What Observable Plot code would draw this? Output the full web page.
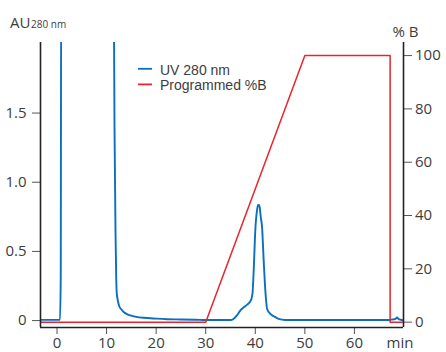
<!DOCTYPE html>
<html><head><meta charset="utf-8">
<script src="https://cdn.jsdelivr.net/npm/d3@7"></script>
<script src="https://cdn.jsdelivr.net/npm/@observablehq/plot@0.6"></script>
<style>
body{margin:0;background:#fff;}
#wrap{position:relative;width:446px;height:352px;font-family:"Open Sans",sans-serif;color:#444;}
#wrap svg.ov{position:absolute;left:0;top:0;pointer-events:none;overflow:visible;}
</style></head><body><div id="wrap"></div>
<script>
// UV 280 nm trace (minutes, AU)
const uvTime = [-3.33, 0.0, 0.6, 0.75, 0.85, 11.4, 11.6, 11.8, 11.95, 12.05, 12.3, 12.6, 13.0, 13.5, 14.2, 14.8, 16.0, 17.5, 20.0, 22.2, 25.0, 28.9, 30.0, 35.0, 35.6, 36.3, 37.0, 37.7, 38.35, 39.0, 39.2, 39.45, 39.7, 40.0, 40.36, 40.56, 40.75, 40.89, 41.1, 41.37, 41.7, 42.04, 42.38, 43.0, 43.8, 44.7, 46.0, 55.0, 67.0, 67.4, 67.9, 68.2, 68.6, 68.9, 69.3, 69.9];
const uvAU   = [0.005, 0.005, 0.005, 0.3, 2.6, 2.6, 1.4, 0.65, 0.3, 0.2, 0.14, 0.1, 0.08, 0.06, 0.045, 0.037, 0.027, 0.02, 0.014, 0.01, 0.008, 0.005, 0.004, 0.004, 0.012, 0.037, 0.074, 0.096, 0.115, 0.14, 0.155, 0.2, 0.38, 0.65, 0.8, 0.835, 0.835, 0.82, 0.75, 0.674, 0.43, 0.21, 0.086, 0.05, 0.03, 0.012, 0.004, 0.004, 0.004, 0.007, 0.009, 0.011, 0.022, 0.012, 0.006, 0.002];
// Programmed %B
const gradTime = [-3.33, 30, 50, 67.2, 67.2, 69.9];
const gradB    = [0, 0, 100, 100, 0, 0];

const xTicks  = [0, 10, 20, 30, 40, 50, 60];
const auTicks = [0, 0.5, 1.0, 1.5];
const bTicks  = [0, 20, 40, 60, 80, 100];
const xDomain  = [-3.33, 69.9];
const auDomain = [-0.05, 2.01];
const bDomain  = [-2.0, 104.9];
const seriesNames = ["UV 280 nm", "Programmed %B"];
const seriesColors = ["#0b6fc0", "#e8242c"];

const bToAU = d3.scaleLinear().domain(bDomain).range(auDomain);

const uv = uvTime.map((t, i) => ({t, v: uvAU[i]}));
const grad = gradTime.map((t, i) => ({t, v: bToAU(gradB[i])}));

const W = 446, H = 352, ML = 40, MR = 43, MT = 42, MB = 25;

const plot = Plot.plot({
  width: W, height: H,
  marginLeft: ML, marginRight: MR, marginTop: MT, marginBottom: MB,
  style: {fontFamily: '"Open Sans", sans-serif', fontSize: "15px", color: "#3d3d3d", background: "white", overflow: "visible"},
  x: {domain: xDomain},
  y: {domain: auDomain},
  marks: [
    Plot.axisX(xTicks, {tickSize: 7, tickPadding: 3.3, label: null, stroke: "#555", fill: "#3d3d3d"}),
    Plot.axisY(auTicks, {anchor: "left", tickSize: 8, tickPadding: 6, label: null, stroke: "#555", fill: "#3d3d3d",
      tickFormat: d => d === 0 ? "0" : d.toFixed(1)}),
    Plot.axisY(bTicks.map(b => bToAU(b)), {anchor: "right", tickSize: 8, tickPadding: 3.5, label: null, stroke: "#555", fill: "#3d3d3d",
      tickFormat: d => String(Math.round(bToAU.invert(d)))}),
    Plot.line(uv, {x: "t", y: "v", stroke: seriesColors[0], strokeWidth: 1.9, curve: "monotone-x", clip: true}),
    Plot.line(grad, {x: "t", y: "v", stroke: seriesColors[1], strokeWidth: 1.5, clip: true}),
    Plot.ruleX([xDomain[0], xDomain[1]], {stroke: "#222", strokeWidth: 1.6}),
    Plot.ruleY([auDomain[0]], {stroke: "#222", strokeWidth: 1.6})
  ]
});
const wrap = document.getElementById("wrap");
wrap.appendChild(plot);

// overlay texts and legend
const ns = "http://www.w3.org/2000/svg";
const ov = document.createElementNS(ns, "svg");
ov.setAttribute("class", "ov");
ov.setAttribute("width", W); ov.setAttribute("height", H);
ov.setAttribute("font-family", '"Open Sans", sans-serif');
function txt(x, y, s, size, anchor, family) {
  const t = document.createElementNS(ns, "text");
  t.setAttribute("x", x); t.setAttribute("y", y);
  t.setAttribute("font-size", size); t.setAttribute("fill", "#3d3d3d");
  if (anchor) t.setAttribute("text-anchor", anchor);
  if (family) t.setAttribute("font-family", family);
  t.textContent = s; ov.appendChild(t); return t;
}
function ln(x1, y1, x2, y2, c) {
  const l = document.createElementNS(ns, "line");
  l.setAttribute("x1", x1); l.setAttribute("y1", y1);
  l.setAttribute("x2", x2); l.setAttribute("y2", y2);
  l.setAttribute("stroke", c); l.setAttribute("stroke-width", 1.8);
  ov.appendChild(l);
}
txt(10, 28.3, "AU", 15);
txt(31, 28.3, "280 nm", 10);
txt(392.5, 36.5, "% B", 15);
txt(400, 347.5, "min", 15, "middle");
ln(138, 68.8, 152, 68.8, seriesColors[0]);
ln(138, 84.4, 152, 84.4, seriesColors[1]);
seriesNames.forEach((s, i) => txt(160, 74.5 + i * 15.8, s, 14, null, '"Liberation Sans", sans-serif'));
wrap.appendChild(ov);
</script></body></html>
